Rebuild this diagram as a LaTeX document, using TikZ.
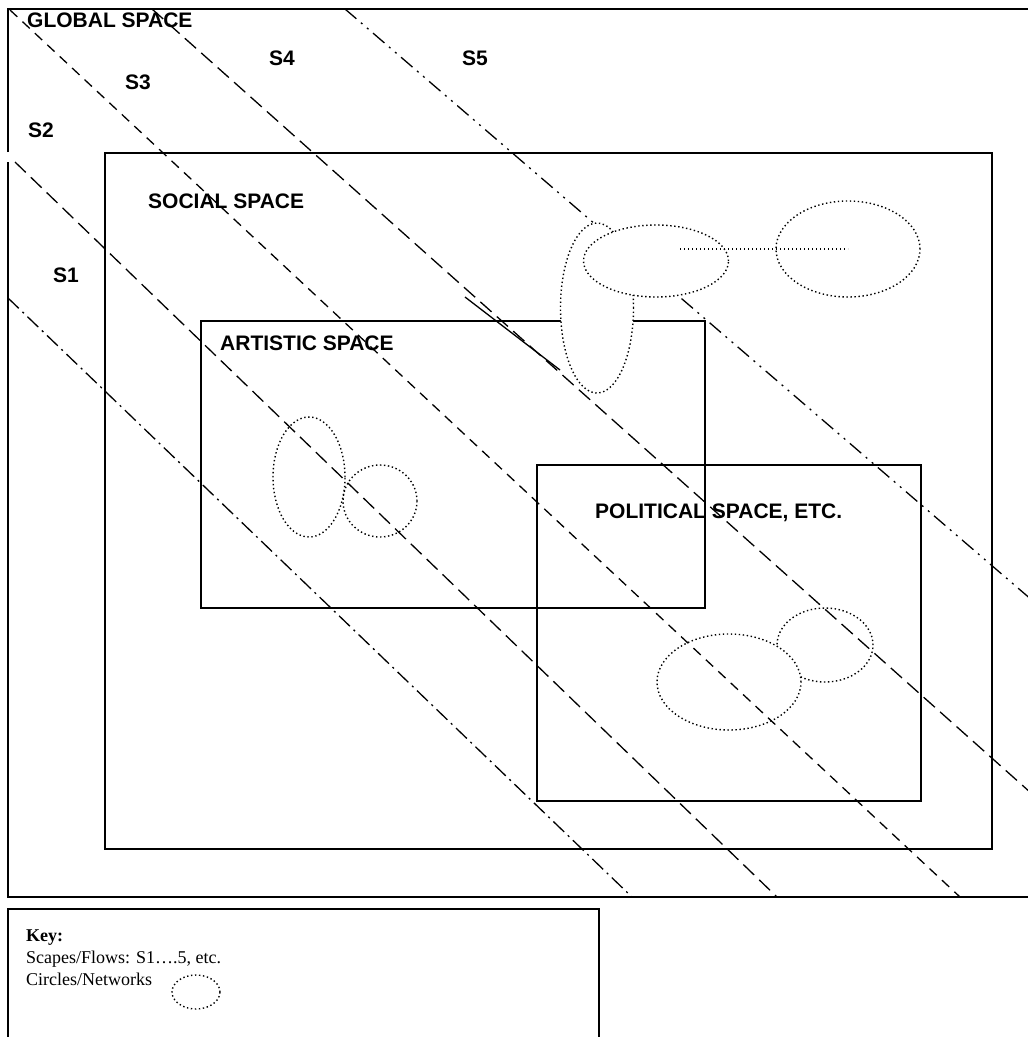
\documentclass[tikz,border=0pt]{standalone}
\usepackage{fontspec}
\setmainfont{Liberation Serif}
\setsansfont{Liberation Sans}
\usetikzlibrary{positioning}
\definecolor{inkblack}{RGB}{0,0,0}
\tikzset{
  spacebox/.style={draw=inkblack, line width=1.7pt},
  spacelabel/.style={font=\sffamily\bfseries\fontsize{21}{24}\selectfont, anchor=base west, inner sep=0pt},
  keytext/.style={font=\fontsize{18}{21}\selectfont, anchor=base west, inner sep=0pt},
  flowdashdot/.style={line width=1.3pt, dash pattern=on 15pt off 5pt on 2pt off 5pt},
  flowlong/.style={line width=1.3pt, dash pattern=on 15pt off 7pt},
  flowshort/.style={line width=1.3pt, dash pattern=on 10pt off 7pt},
  flowdashdotdot/.style={line width=1.3pt, dash pattern=on 15pt off 6pt on 2pt off 6pt on 2pt off 6pt},
  network/.style={line width=1.4pt, dash pattern=on 1.4pt off 2.6pt, fill=white},
  netlink/.style={line width=1.4pt, dash pattern=on 1.4pt off 2.6pt}
}

\begin{document}
\begin{tikzpicture}[x=1pt, y=-1pt]
  \useasboundingbox[fill=white] (0,0) rectangle (1028,1037);
  % frames
  \draw[spacebox] (8,152) -- (8,9) -- (1040,9);
  \draw[spacebox] (8,162) -- (8,897) -- (1040,897);
  \draw[spacebox] (105,153) rectangle (992,849);
  \draw[spacebox] (201,321) rectangle (705,608);
  \draw[spacebox] (537,465) rectangle (921,801);
  \draw[spacebox] (8,1045) -- (8,909) -- (599,909) -- (599,1045);
  % networks in political space
  \draw[network] (825,645) ellipse [x radius=48pt, y radius=37pt];
  \draw[network] (729,682) ellipse [x radius=72pt, y radius=48pt];
  % networks in artistic space
  \draw[netlink] (309,477) ellipse [x radius=36pt, y radius=60pt];
  \draw[netlink] (380,501) ellipse [x radius=37pt, y radius=36pt];
  % scapes / flows
  \draw[flowdashdot] (8,298) -- (632,897);
  \draw[flowlong] (15,162) -- (777,897);
  \draw[flowshort] (10,10) -- (960,897);
  \draw[flowlong] (152,9) -- (1040,801);
  \draw[flowdashdotdot] (345,9) -- (1040,607);
  \draw[line width=1.3pt] (465,297) -- (560,370);
  % networks in social space
  \draw[network] (597,308) ellipse [x radius=36.5pt, y radius=85pt];
  \draw[network] (656,261) ellipse [x radius=72.5pt, y radius=36pt];
  \draw[network] (848,249) ellipse [x radius=72pt, y radius=48pt];
  \draw[netlink] (680,249) -- (848,249);
  % labels
  \node[spacelabel] (global) at (27,27) {GLOBAL SPACE};
  \node[spacelabel] (social) at (148,208) {SOCIAL SPACE};
  \node[spacelabel] (artistic) at (220,350) {ARTISTIC SPACE};
  \node[spacelabel] (political) at (595,518) {POLITICAL SPACE, ETC.};
  \foreach \sname/\sx/\sy in {S1/53/282, S2/28/137, S3/125/89, S4/269/65, S5/462/65}
    \node[spacelabel] (\sname) at (\sx,\sy) {\sname};
  % key
  \node[keytext] (keyhead) at (26,941) {\textbf{Key:}};
  \node[keytext] (keyflows) at (26,963) {Scapes/Flows: S1….5, etc.};
  \node[keytext] (keynets) at (26,985) {Circles/Networks};
  \draw[network] (196,992) ellipse [x radius=24pt, y radius=17pt];
\end{tikzpicture}
\end{document}
